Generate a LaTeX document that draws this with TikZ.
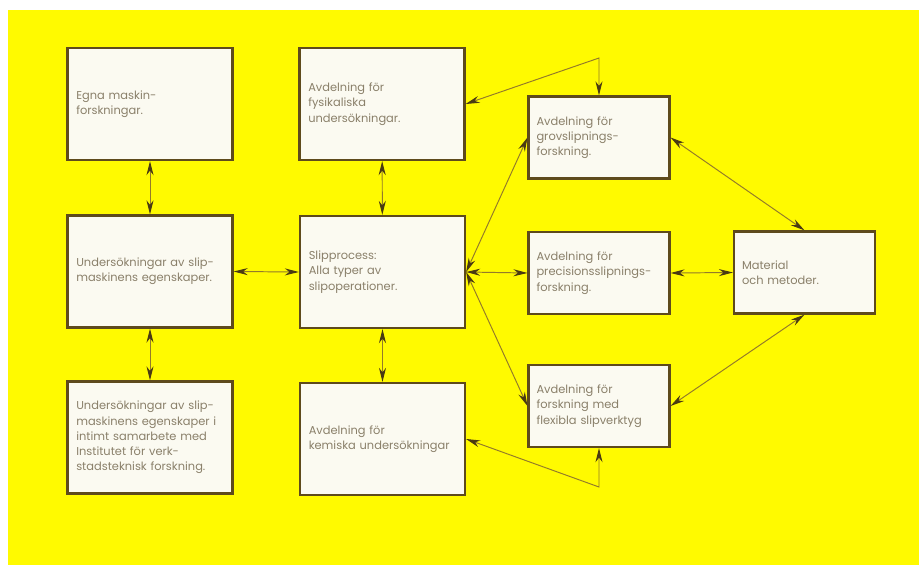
\documentclass[tikz,border=0pt]{standalone}
\usepackage{fontspec}
\setmainfont{Poppins}
\usepackage{tikz}
\usetikzlibrary{arrows.meta,positioning}
\definecolor{cYellowF}{HTML}{FFFA00}
\definecolor{cBoxF}{HTML}{FBFAF1}
\definecolor{cBoxD}{HTML}{5E4A1C}
\definecolor{cBoxT}{HTML}{8A806A}
\definecolor{cLineD}{HTML}{937A2A}
\definecolor{cTipD}{HTML}{4A3A12}
\tikzset{
  blk/.style   = {rectangle, draw=cBoxD, fill=cBoxF, line width=1.3pt,
                  inner xsep=4.5pt, align=left, text=cBoxT,
                  font=\fontsize{6.5}{8.7}\selectfont},
  big/.style   = {blk, minimum width=3.3cm, minimum height=2.24cm, text width=2.95cm},
  small/.style = {blk, minimum width=2.76cm, minimum height=1.64cm, text width=2.5cm},
  link/.style  = {cLineD, line width=0.55pt,
                  {Stealth[length=8pt,width=4pt,color=cTipD]}-{Stealth[length=8pt,width=4pt,color=cTipD]}},
}

\begin{document}
\begin{tikzpicture}[x=0.02cm, y=-0.02cm]
  \useasboundingbox (0,0) rectangle (919,565);
  % background
  \fill[cYellowF] (8,10) rectangle (919,565);
  % left column
  \node[big] (egna) at (150,104) {Egna maskin-\\forskningar.};
  \node[big] (slipmask) at (150,271.5) {Undersökningar av slip-\\maskinens egenskaper.};
  \node[big] (samarb) at (150,437.5) {Undersökningar av slip-\\maskinens egenskaper i\\intimt samarbete med\\Institutet för verk-\\stadsteknisk forskning.};
  % middle column
  \node[big] (fysik) at (382,104) {Avdelning för\\fysikaliska\\undersökningar.};
  \node[big] (process) at (382.5,272) {Slipprocess:\\Alla typer av\\slipoperationer.};
  \node[big] (kemi) at (382.5,439) {Avdelning för\\kemiska undersökningar};
  % departments
  \node[small] (grov) at (599,137.5) {Avdelning för\\grovslipnings-\\forskning.};
  \node[small] (precis) at (599,273) {Avdelning för\\precisionsslipnings-\\forskning.};
  \node[small] (flex) at (599,406) {Avdelning för\\forskning med\\flexibla slipverktyg};
  \node[small, minimum width=2.7cm] (material) at (804.5,272.5) {Material\\och metoder.};
  % knees
  \coordinate (kneeTop) at (599,58);
  \coordinate (kneeBot) at (599,487);
  % connectors
  \draw[link] (egna) -- (slipmask);
  \draw[link] (slipmask) -- (samarb);
  \draw[link] (fysik) -- (process);
  \draw[link] (process) -- (kemi);
  \draw[link] (slipmask.east) -- (process.west);
  \draw[link] (process.east) -- (grov.west);
  \draw[link] (process.east) -- (precis.west);
  \draw[link] (process.east) -- (flex.west);
  \draw[link] (precis.east) -- (material.west);
  \draw[link] (grov.east) -- (material.north);
  \draw[link] (flex.east) -- (material.south);
  \draw[link] (fysik.east) -- (kneeTop) -- (grov.north);
  \draw[link] (kemi.east) -- (kneeBot) -- (flex.south);
\end{tikzpicture}
\end{document}
